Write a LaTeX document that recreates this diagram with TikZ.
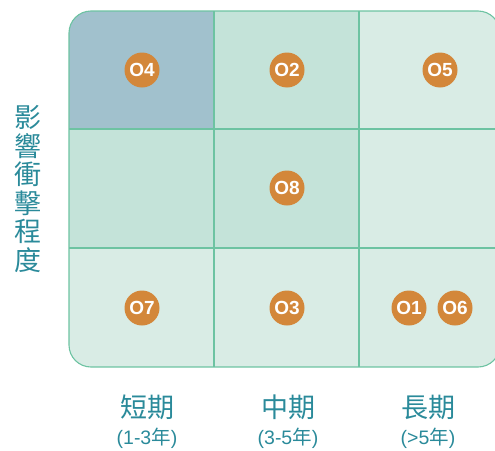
\documentclass[tikz,border=0pt]{standalone}
\usepackage{fontspec}
\setmainfont{Liberation Sans}
\newfontfamily\cjk{Noto Sans CJK TC}
\definecolor{cellblue}{HTML}{A1C1CD}
\definecolor{cellmid}{HTML}{C4E3D9}
\definecolor{celllight}{HTML}{D9ECE5}
\definecolor{gridline}{HTML}{6DC3A2}
\definecolor{dot}{HTML}{D3873A}
\definecolor{teal}{HTML}{2A8A9A}
\tikzset{
  odot/.style={circle,fill=dot,draw=none,minimum size=35pt,inner sep=0pt,text=white,font=\fontsize{19}{19}\selectfont\bfseries},
  collabel/.style={text=teal,font=\cjk\fontsize{27}{27}\selectfont,inner sep=0pt},
  colsub/.style={text=teal,font=\fontsize{19.5}{19.5}\selectfont,inner sep=0pt}
}
\begin{document}
\begin{tikzpicture}[x=1pt,y=-1pt]
\useasboundingbox (0,0) rectangle (495,450);
\begin{scope}
\clip[rounded corners=22pt] (69,11) rectangle (500,367);
\fill[celllight] (69,11) rectangle (500,367);
\fill[cellblue] (69,11) rectangle (214,129);
\fill[cellmid] (214,11) rectangle (359,129);
\fill[cellmid] (69,129) rectangle (359,248);
\end{scope}
\draw[gridline,line width=1.1pt] (214,11) -- (214,367) (359,11) -- (359,367)
  (69,129) -- (500,129) (69,248) -- (500,248);
\draw[gridline,line width=1.1pt,rounded corners=22pt] (69,11) rectangle (500,367);
% dots
\node[odot] (o4) at (142,70) {O4};
\node[odot] (o2) at (287,70) {O2};
\node[odot] (o5) at (440,70) {O5};
\node[odot] (o8) at (287,188) {O8};
\node[odot] (o7) at (142,308) {O7};
\node[odot] (o3) at (287,308) {O3};
\node[odot] (o1) at (409,308) {O1};
\node[odot] (o6) at (455,308) {O6};
% y label
\node[text=teal,font=\cjk\fontsize{27}{28.5}\selectfont,align=center,inner sep=0pt] (ylab) at (28,189) {影\\響\\衝\\擊\\程\\度};
% x labels
\node[collabel] (c1) at (147,407) {短期};
\node[collabel] (c2) at (288,407) {中期};
\node[collabel] (c3) at (428,407) {長期};
\node[colsub] (s1) at (147,438) {(1-3{\cjk 年})};
\node[colsub] (s2) at (288,438) {(3-5{\cjk 年})};
\node[colsub] (s3) at (428,438) {(>5{\cjk 年})};
\end{tikzpicture}
\end{document}
